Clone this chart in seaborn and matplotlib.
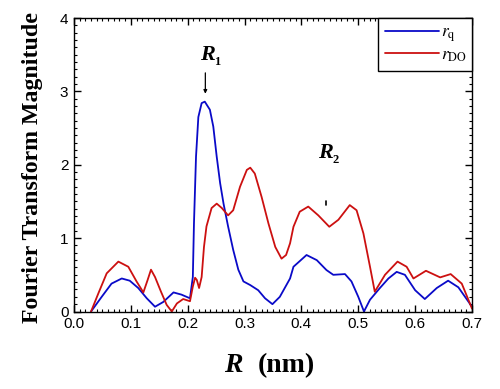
import matplotlib
matplotlib.use("Agg")
import matplotlib.pyplot as plt
import seaborn as sns
import pandas as pd
from matplotlib.ticker import MultipleLocator

# ---- data ----
r_q_x = [0.030, 0.0487, 0.066, 0.084, 0.098, 0.113, 0.128, 0.1425, 0.157, 0.175,
         0.189, 0.204, 0.209, 0.211, 0.2146, 0.2187, 0.2245, 0.230, 0.239, 0.245,
         0.251, 0.257, 0.263, 0.271, 0.280, 0.289, 0.298, 0.310, 0.324, 0.336,
         0.349, 0.362, 0.380, 0.386, 0.409, 0.427, 0.444, 0.456, 0.4766, 0.488,
         0.500, 0.510, 0.5206, 0.538, 0.553, 0.5675, 0.582, 0.600, 0.617, 0.638,
         0.658, 0.676, 0.700]
r_q_y = [0.0, 0.20, 0.38, 0.45, 0.42, 0.32, 0.18, 0.065, 0.13, 0.26,
         0.23, 0.18, 0.47, 1.2, 2.11, 2.65, 2.84, 2.86, 2.75, 2.52,
         2.11, 1.75, 1.47, 1.16, 0.84, 0.57, 0.41, 0.36, 0.29, 0.18,
         0.10, 0.20, 0.45, 0.61, 0.77, 0.70, 0.565, 0.50, 0.51, 0.41,
         0.20, 0.0, 0.16, 0.32, 0.45, 0.54, 0.50, 0.29, 0.17, 0.32,
         0.42, 0.33, 0.065]

r_do_x = [0.030, 0.043, 0.0575, 0.078, 0.0955, 0.110, 0.122, 0.1295, 0.1354, 0.1425,
          0.153, 0.163, 0.172, 0.181, 0.192, 0.204, 0.209, 0.213, 0.216, 0.220,
          0.2245, 0.2286, 0.233, 0.242, 0.251, 0.260, 0.271, 0.280, 0.292, 0.304,
          0.310, 0.318, 0.330, 0.342, 0.354, 0.365, 0.373, 0.380, 0.386, 0.397,
          0.412, 0.4297, 0.449, 0.465, 0.485, 0.497, 0.509, 0.5206, 0.529, 0.547,
          0.569, 0.585, 0.597, 0.619, 0.644, 0.6625, 0.682, 0.700]
r_do_y = [0.0, 0.25, 0.52, 0.68, 0.61, 0.41, 0.26, 0.43, 0.57, 0.47,
          0.27, 0.09, 0.0, 0.11, 0.17, 0.14, 0.34, 0.46, 0.43, 0.32,
          0.47, 0.88, 1.16, 1.41, 1.47, 1.41, 1.31, 1.38, 1.70, 1.93,
          1.96, 1.88, 1.56, 1.20, 0.88, 0.72, 0.77, 0.93, 1.155, 1.36,
          1.43, 1.31, 1.155, 1.25, 1.45, 1.38, 1.065, 0.61, 0.27, 0.50,
          0.68, 0.61, 0.45, 0.555, 0.465, 0.51, 0.38, 0.04]

series_labels = [r'$r_{\mathrm{q}}$', r'$r_{\mathrm{DO}}$']
x_ticks = [0.0, 0.1, 0.2, 0.3, 0.4, 0.5, 0.6, 0.7]
y_ticks = [0, 1, 2, 3, 4]

# ---- style ----
sns.set_style("ticks")
plt.rcParams['font.family'] = ['Liberation Sans', 'DejaVu Sans']
plt.rcParams['mathtext.fontset'] = 'stix'
plt.rcParams['text.color'] = 'black'
plt.rcParams['axes.labelcolor'] = 'black'
plt.rcParams['xtick.color'] = 'black'
plt.rcParams['ytick.color'] = 'black'

fig = plt.figure(figsize=(5.0, 3.89), dpi=100)
ax = fig.add_axes([74/500, (389-311.5)/389, (472-74)/500, (311.5-18)/389])

df_q = pd.DataFrame({'R': r_q_x, 'M': r_q_y})
df_do = pd.DataFrame({'R': r_do_x, 'M': r_do_y})
sns.lineplot(data=df_q, x='R', y='M', ax=ax, color='#0a0ac8', lw=1.3,
             label=series_labels[0], sort=False)
sns.lineplot(data=df_do, x='R', y='M', ax=ax, color='#cc1010', lw=1.3,
             label=series_labels[1], sort=False)

ax.set_xlim(0, 0.7)
ax.set_ylim(0, 4)
ax.set_xticks(x_ticks)
ax.set_xticklabels([f'{v:.1f}' for v in x_ticks])
ax.set_yticks(y_ticks)
ax.set_yticklabels([str(v) for v in y_ticks])
ax.xaxis.set_minor_locator(MultipleLocator(0.01))
ax.yaxis.set_minor_locator(MultipleLocator(0.1))
ax.tick_params(which='both', direction='in', top=True, right=True,
               colors='black', labelcolor='black', labelsize=11, width=1.0)
ax.tick_params(which='major', length=5, pad=4)
ax.tick_params(which='minor', length=2.5, width=0.8)
for s in ax.spines.values():
    s.set_linewidth(1.0)
    s.set_color('black')

ax.set_xlabel('')
ax.set_ylabel('Fourier Transform Magnitude', fontsize=17.2, fontweight='bold',
              family='Liberation Serif', color='black')
ax.yaxis.set_label_coords(-0.078, 0.49)
fig.text(0.486, 0.044, 'R', fontsize=20, fontweight='bold', style='italic',
         family='Liberation Serif', ha='right', va='baseline', color='black')
fig.text(0.516, 0.044, '(nm)', fontsize=20, fontweight='bold',
         family='Liberation Serif', ha='left', va='baseline', color='black')

# annotations
ax.text(0.234, 3.43, 'R', fontsize=16, fontweight='bold', style='italic',
        family='Liberation Serif', ha='center', va='baseline')
ax.text(0.251, 3.36, '1', fontsize=9, fontweight='bold',
        family='Liberation Serif', ha='center', va='baseline')
ax.annotate('', xy=(0.231, 2.93), xytext=(0.231, 3.29),
            arrowprops=dict(arrowstyle='-|>', color='black', lw=0.9,
                            mutation_scale=5))
ax.text(0.443, 2.09, 'R', fontsize=16, fontweight='bold', style='italic',
        family='Liberation Serif', ha='center', va='baseline')
ax.text(0.460, 2.02, '2', fontsize=9, fontweight='bold',
        family='Liberation Serif', ha='center', va='baseline')
ax.plot([0.444, 0.444], [1.45, 1.50], color='black', lw=1.2)

leg = ax.legend(loc='upper left', bbox_to_anchor=(0.764, 1.0, 0.236, 0.0),
                mode='expand', borderaxespad=0, frameon=True, fancybox=False,
                fontsize=12.5, handlelength=3.1, handletextpad=0.15,
                labelspacing=0.15, borderpad=0.4)
leg.get_frame().set_edgecolor('black')
leg.get_frame().set_linewidth(1.0)
leg.get_frame().set_facecolor('white')
leg.get_frame().set_alpha(1)
for t in leg.get_texts():
    t.set_color('black')

fig.savefig('out.png', dpi=100)
